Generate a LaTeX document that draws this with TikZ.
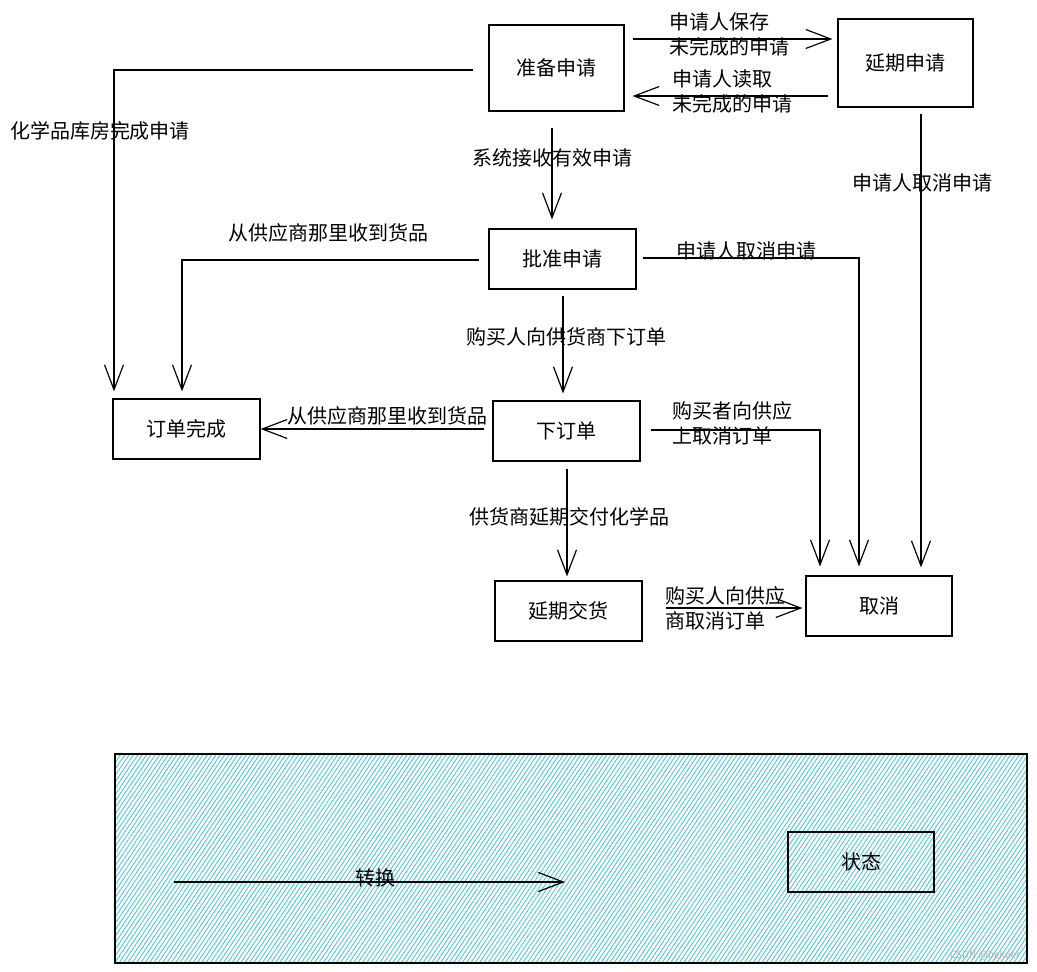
\documentclass[tikz,border=0pt]{standalone}
\usepackage{fontspec}
\setmainfont{Noto Sans CJK SC}
\usetikzlibrary{arrows.meta,patterns.meta}

\definecolor{hatchcyan}{RGB}{95,200,218}

\tikzset{
  box/.style={draw, line width=1.1pt, minimum width=147pt, minimum height=60pt, inner sep=0pt, font=\fontsize{20}{24}\selectfont},
  arr/.style={-{Straight Barb[length=25pt,width=19pt]}, line width=1.2pt},
  lbl/.style={inner sep=0pt, font=\fontsize{20}{25}\selectfont},
  lbltwo/.style={lbl, align=left, anchor=west}
}

\begin{document}
\begin{tikzpicture}[x=1pt,y=-1pt]
\useasboundingbox (0,0) rectangle (1037,972);

\draw[line width=1.1pt, pattern={Lines[angle=56,distance=3.6pt,line width=1pt]}, pattern color=hatchcyan] (115,754) rectangle (1027,963);

\node[box, minimum width=135pt, minimum height=86pt] (prep) at (556.5,68) {准备申请};

\node[box, minimum width=135pt, minimum height=88pt] (ext) at (905.5,63) {延期申请};

\node[box] (appr) at (562.5,259) {批准申请};

\node[box] (done) at (186.5,429) {订单完成};

\node[box] (order) at (566.5,431) {下订单};

\node[box] (delay) at (568.5,611) {延期交货};

\node[box, minimum width=146pt] (cancel) at (879,606) {取消};

\node[box, minimum width=146pt] (state) at (861,862) {状态};

\draw[arr, shorten <=8pt, shorten >=5pt] (prep.east |- 0,39) -- (ext.west |- 0,39);

\draw[arr, shorten <=9pt, shorten >=8pt] (ext.west |- 0,96) -- (prep.east |- 0,96);

\draw[arr, shorten <=16pt, shorten >=9pt] (prep.south -| 552,0) -- (appr.north -| 552,0);

\draw[arr, shorten <=15pt, shorten >=7pt] (prep.west |- 0,70) -| (done.north -| 114,0);

\draw[arr, shorten <=9pt, shorten >=7pt] (appr.west |- 0,260) -| (done.north -| 182,0);

\draw[arr, shorten <=6pt, shorten >=7pt] (appr.south -| 563,0) -- (order.north -| 563,0);

\draw[arr, shorten <=6pt, shorten >=9pt] (appr.east |- 0,258) -| (cancel.north -| 859,0);

\draw[arr, shorten <=6pt, shorten >=8pt] (ext.south -| 921,0) -- (cancel.north -| 921,0);

\draw[arr, shorten <=8pt, shorten >=0pt] (order.west |- 0,429) -- (done.east |- 0,429);

\draw[arr, shorten <=10pt, shorten >=9pt] (order.east |- 0,430) -| (cancel.north -| 820,0);

\draw[arr, shorten <=7pt, shorten >=4pt] (order.south -| 567,0) -- (delay.north -| 567,0);

\draw[arr, shorten <=23pt, shorten >=3pt] (delay.east |- 0,608) -- (cancel.west |- 0,608);

\coordinate (tfrom) at (174,882);
\coordinate (tto) at (565,882);
\draw[arr] (tfrom) -- (tto);

\node[lbltwo] (lsave) at (669,34) {申请人保存\\未完成的申请};

\node[lbltwo] (lread) at (672,91) {申请人读取\\未完成的申请};

\node[lbl] (lstore) at (100,131) {化学品库房完成申请};

\node[lbl] (lvalid) at (552,158) {系统接收有效申请};

\node[lbl] (lrecvone) at (328,233) {从供应商那里收到货品};

\node[lbl] (lcancelone) at (746,251) {申请人取消申请};

\node[lbl] (lcanceltwo) at (922,183) {申请人取消申请};

\node[lbl] (lplace) at (566,337) {购买人向供货商下订单};

\node[lbl] (lrecvtwo) at (387,416) {从供应商那里收到货品};

\node[lbltwo] (lbuyer) at (672,423) {购买者向供应\\上取消订单};

\node[lbl] (ldelay) at (569,517) {供货商延期交付化学品};

\node[lbltwo] (lbuyertwo) at (665,608) {购买人向供应\\商取消订单};

\node[lbl] (ltrans) at (375,878) {转换};

\node[inner sep=0pt, text=gray!60, font=\fontsize{10}{11}\selectfont] (wmark) at (985,955) {CSDN @bekeer};
\end{tikzpicture}
\end{document}
